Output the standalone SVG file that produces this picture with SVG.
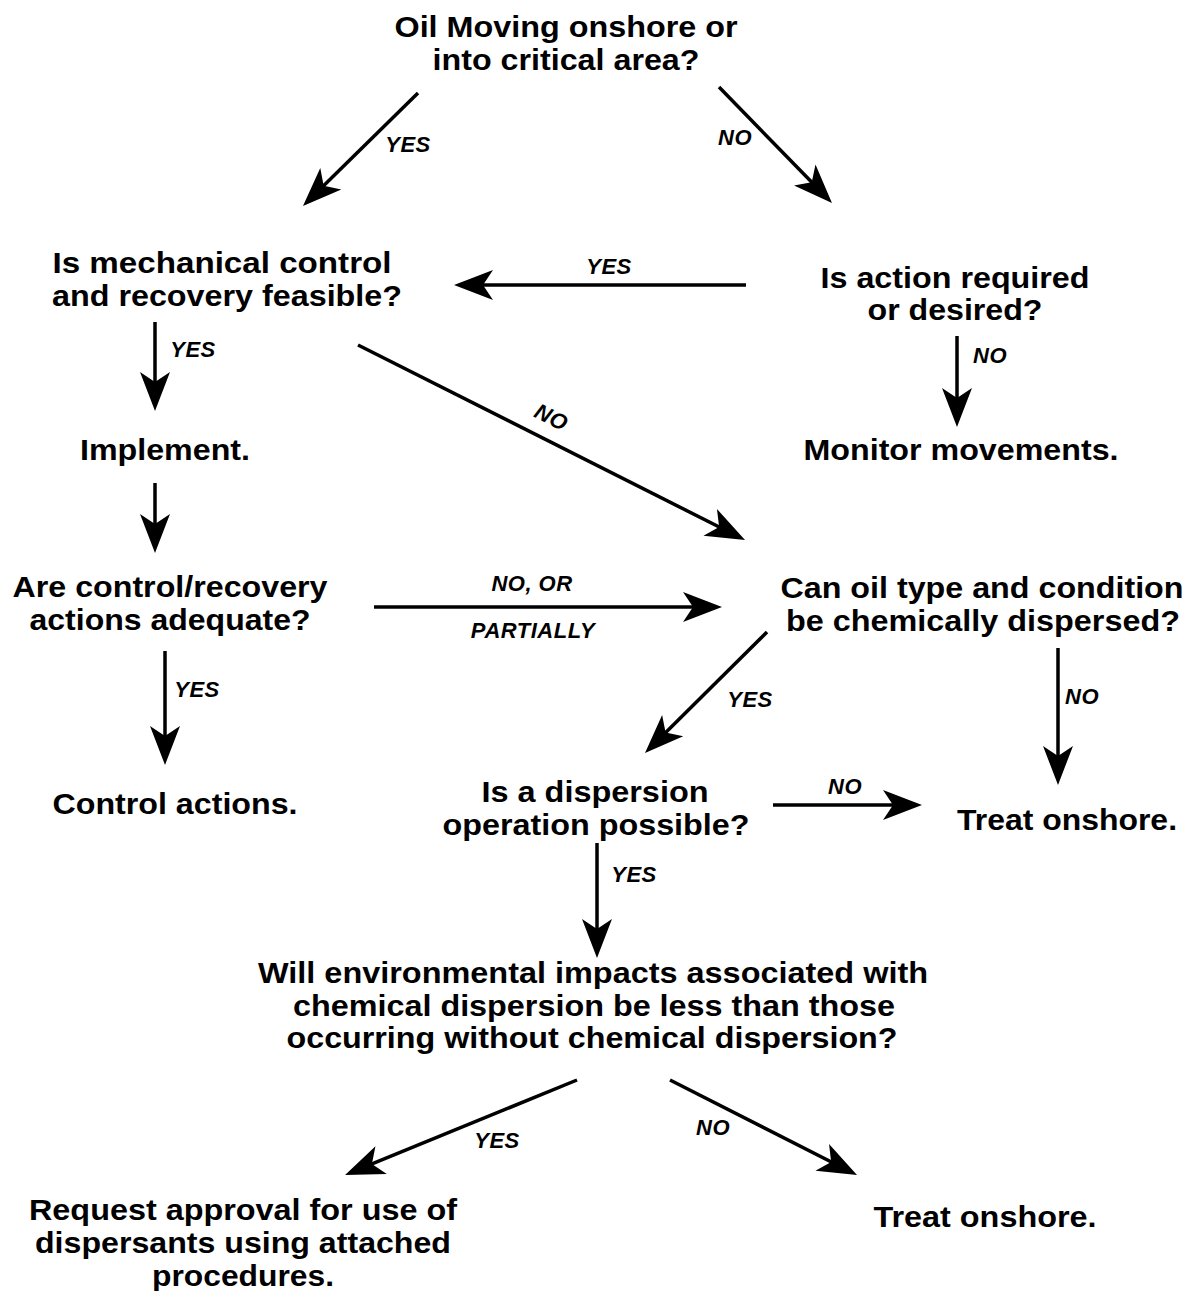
<svg xmlns="http://www.w3.org/2000/svg" width="1189" height="1291" viewBox="0 0 1189 1291">
<style>
.n{font-family:"Liberation Sans",Arial,sans-serif;font-weight:bold;font-size:29px;fill:#000;text-anchor:middle}
.l{font-family:"Liberation Sans",Arial,sans-serif;font-weight:bold;font-style:italic;font-size:22px;letter-spacing:0.5px;fill:#000;text-anchor:middle}
.c{stroke:#000;stroke-width:3.5;fill:none;marker-end:url(#ah)}
</style>
<defs>
<marker id="ah" markerUnits="userSpaceOnUse" markerWidth="50" markerHeight="40" refX="30" refY="20" orient="auto">
<path d="M40,20 L1,5 L11,20 L1,35 Z" fill="#000"/>
</marker>
</defs>
<rect width="1189" height="1291" fill="#fff"/>
<g id="connectors">
<line class="c" x1="418" y1="93" x2="310.1" y2="199"/>
<line class="c" x1="719" y1="87" x2="825" y2="195.8"/>
<line class="c" x1="746" y1="285" x2="464" y2="285"/>
<line class="c" x1="155" y1="322" x2="155" y2="401"/>
<line class="c" x1="957" y1="336" x2="957" y2="417"/>
<line class="c" x1="358" y1="345" x2="736.1" y2="535.5"/>
<line class="c" x1="155" y1="483" x2="155" y2="543"/>
<line class="c" x1="374" y1="607" x2="712" y2="607"/>
<line class="c" x1="165" y1="651" x2="165" y2="755"/>
<line class="c" x1="767" y1="632" x2="652.1" y2="746"/>
<line class="c" x1="1058" y1="648" x2="1058" y2="775"/>
<line class="c" x1="773" y1="805" x2="912" y2="805"/>
<line class="c" x1="597" y1="843" x2="597" y2="948"/>
<line class="c" x1="577" y1="1080" x2="354.3" y2="1171.2"/>
<line class="c" x1="670" y1="1080" x2="848.1" y2="1170.5"/>
<text class="l" x="408" y="152">YES</text>
<text class="l" x="735" y="145">NO</text>
<text class="l" x="609" y="274">YES</text>
<text class="l" x="193" y="357">YES</text>
<text class="l" x="990" y="363">NO</text>
<text class="l" transform="translate(548,424) rotate(26.7)">NO</text>
<text class="l" x="532" y="591">NO, OR</text>
<text class="l" x="533" y="638">PARTIALLY</text>
<text class="l" x="197" y="697">YES</text>
<text class="l" x="750" y="707">YES</text>
<text class="l" x="1082" y="704">NO</text>
<text class="l" x="845" y="794">NO</text>
<text class="l" x="634" y="882">YES</text>
<text class="l" x="497" y="1148">YES</text>
<text class="l" x="713" y="1135">NO</text>
</g>
<g id="n1"><text class="n" x="566" y="37" textLength="343" lengthAdjust="spacingAndGlyphs">Oil Moving onshore or</text><text class="n" x="566" y="70" textLength="267" lengthAdjust="spacingAndGlyphs">into critical area?</text></g>
<g id="n2"><text class="n" x="222" y="273" textLength="339" lengthAdjust="spacingAndGlyphs">Is mechanical control</text><text class="n" x="227" y="306" textLength="350" lengthAdjust="spacingAndGlyphs">and recovery feasible?</text></g>
<g id="n3"><text class="n" x="955" y="288" textLength="269" lengthAdjust="spacingAndGlyphs">Is action required</text><text class="n" x="955" y="320" textLength="175" lengthAdjust="spacingAndGlyphs">or desired?</text></g>
<g id="n4"><text class="n" x="165" y="460" textLength="170" lengthAdjust="spacingAndGlyphs">Implement.</text></g>
<g id="n5"><text class="n" x="961" y="460" textLength="315" lengthAdjust="spacingAndGlyphs">Monitor movements.</text></g>
<g id="n6"><text class="n" x="170" y="597" textLength="315" lengthAdjust="spacingAndGlyphs">Are control/recovery</text><text class="n" x="170" y="630" textLength="281" lengthAdjust="spacingAndGlyphs">actions adequate?</text></g>
<g id="n7"><text class="n" x="982" y="598" textLength="403" lengthAdjust="spacingAndGlyphs">Can oil type and condition</text><text class="n" x="983" y="631" textLength="394" lengthAdjust="spacingAndGlyphs">be chemically dispersed?</text></g>
<g id="n8"><text class="n" x="175" y="814" textLength="245" lengthAdjust="spacingAndGlyphs">Control actions.</text></g>
<g id="n9"><text class="n" x="595" y="802" textLength="227" lengthAdjust="spacingAndGlyphs">Is a dispersion</text><text class="n" x="596" y="835" textLength="307" lengthAdjust="spacingAndGlyphs">operation possible?</text></g>
<g id="n10"><text class="n" x="1067" y="830" textLength="220" lengthAdjust="spacingAndGlyphs">Treat onshore.</text></g>
<g id="n11"><text class="n" x="593" y="983" textLength="670" lengthAdjust="spacingAndGlyphs">Will environmental impacts associated with</text><text class="n" x="594" y="1016" textLength="602" lengthAdjust="spacingAndGlyphs">chemical dispersion be less than those</text><text class="n" x="592" y="1048" textLength="611" lengthAdjust="spacingAndGlyphs">occurring without chemical dispersion?</text></g>
<g id="n12"><text class="n" x="243" y="1220" textLength="428" lengthAdjust="spacingAndGlyphs">Request approval for use of</text><text class="n" x="243" y="1253" textLength="416" lengthAdjust="spacingAndGlyphs">dispersants using attached</text><text class="n" x="243" y="1286" textLength="182" lengthAdjust="spacingAndGlyphs">procedures.</text></g>
<g id="n13"><text class="n" x="985" y="1227" textLength="223" lengthAdjust="spacingAndGlyphs">Treat onshore.</text></g>
</svg>
